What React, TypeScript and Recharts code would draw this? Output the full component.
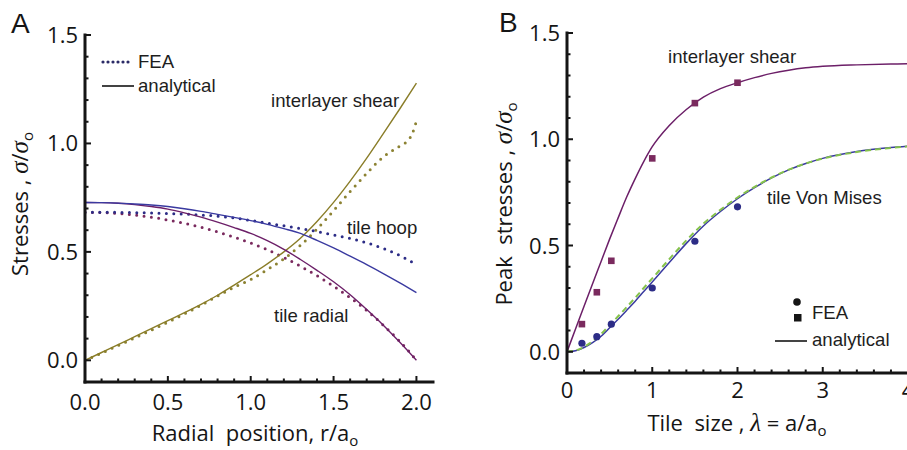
import React from 'react';
import { ComposedChart, Line, Scatter, XAxis, YAxis } from 'recharts';

// ---- Panel A: stresses along the radius (r / a_o) ----
const radialPos = [0, 0.1, 0.2, 0.3, 0.4, 0.5, 0.6, 0.7, 0.8, 0.9, 1.0, 1.1, 1.2, 1.3, 1.4, 1.5, 1.6, 1.7, 1.8, 1.9, 2.0];
const hoopAnalytical = [0.728, 0.727, 0.725, 0.721, 0.716, 0.709, 0.699, 0.687, 0.673, 0.659, 0.644, 0.627, 0.607, 0.585, 0.553, 0.518, 0.48, 0.441, 0.4, 0.357, 0.312];
const radialAnalytical = [0.728, 0.727, 0.724, 0.718, 0.709, 0.697, 0.68, 0.66, 0.637, 0.612, 0.585, 0.552, 0.512, 0.465, 0.415, 0.362, 0.302, 0.234, 0.162, 0.083, 0.0];
const shearAnalytical = [0, 0.036, 0.072, 0.109, 0.146, 0.183, 0.22, 0.258, 0.3, 0.347, 0.395, 0.445, 0.5, 0.563, 0.64, 0.728, 0.826, 0.932, 1.045, 1.16, 1.278];

const radialPosFea = [0, 0.1, 0.2, 0.3, 0.4, 0.5, 0.6, 0.7, 0.8, 0.9, 1.0, 1.1, 1.2, 1.3, 1.4, 1.5, 1.6, 1.7, 1.8, 1.9, 1.95, 1.975, 2.0];
const hoopFea = [0.683, 0.683, 0.682, 0.681, 0.679, 0.677, 0.674, 0.67, 0.665, 0.656, 0.645, 0.632, 0.62, 0.607, 0.594, 0.578, 0.562, 0.542, 0.516, 0.483, 0.463, 0.452, 0.44];
const radialFea = [0.682, 0.681, 0.677, 0.67, 0.66, 0.647, 0.632, 0.614, 0.592, 0.568, 0.541, 0.51, 0.474, 0.434, 0.39, 0.342, 0.289, 0.23, 0.162, 0.087, 0.045, 0.023, 0.0];
const shearFea = [0, 0.033, 0.068, 0.103, 0.139, 0.176, 0.214, 0.254, 0.296, 0.337, 0.372, 0.418, 0.468, 0.53, 0.605, 0.69, 0.778, 0.862, 0.938, 0.988, 1.015, 1.045, 1.103];

const ticksAx = [0, 0.1, 0.2, 0.3, 0.4, 0.5, 0.6, 0.7, 0.8, 0.9, 1.0, 1.1, 1.2, 1.3, 1.4, 1.5, 1.6, 1.7, 1.8, 1.9, 2.0];
const majorAx = [0, 0.5, 1.0, 1.5, 2.0];
const ticksStress = [-0.1, 0, 0.1, 0.2, 0.3, 0.4, 0.5, 0.6, 0.7, 0.8, 0.9, 1.0, 1.1, 1.2, 1.3, 1.4, 1.5];
const majorStress = [0, 0.5, 1.0, 1.5];

// ---- Panel B: peak stresses vs tile size (lambda) ----
const tileSize = [0, 0.1, 0.2, 0.3, 0.4, 0.5, 0.6, 0.7, 0.8, 0.9, 1.0, 1.2, 1.4, 1.6, 1.8, 2.0, 2.2, 2.4, 2.6, 2.8, 3.0, 3.4, 3.8, 4.0];
const shearPeak = [0, 0.107, 0.214, 0.32, 0.425, 0.53, 0.63, 0.728, 0.815, 0.895, 0.965, 1.065, 1.14, 1.198, 1.238, 1.266, 1.29, 1.31, 1.325, 1.336, 1.343, 1.35, 1.354, 1.355];
const vonMisesPeak = [0, 0.005, 0.02, 0.043, 0.073, 0.113, 0.153, 0.195, 0.238, 0.283, 0.328, 0.42, 0.51, 0.592, 0.66, 0.72, 0.772, 0.818, 0.856, 0.886, 0.91, 0.942, 0.961, 0.968];
const vonMisesAlt = [0, 0.006, 0.023, 0.05, 0.083, 0.125, 0.167, 0.21, 0.254, 0.3, 0.345, 0.436, 0.524, 0.603, 0.668, 0.726, 0.776, 0.82, 0.857, 0.886, 0.909, 0.94, 0.959, 0.966];

const feaSize = [0.175, 0.35, 0.52, 1.0, 1.5, 2.0];
const shearPeakFea = [0.13, 0.28, 0.428, 0.91, 1.17, 1.266];
const vonMisesFea = [0.04, 0.071, 0.13, 0.3, 0.52, 0.682];

const ticksLambda = [0, 0.2, 0.4, 0.6, 0.8, 1.0, 1.2, 1.4, 1.6, 1.8, 2.0, 2.2, 2.4, 2.6, 2.8, 3.0, 3.2, 3.4, 3.6, 3.8, 4.0];
const majorLambda = [0, 1, 2, 3, 4];

const INK = '#151515';
const PURPLE = '#6c1f68';
const PURPLE_DOT = '#7a2a5e';
const BLUE = '#3a3aa0';
const BLUE_DOT = '#2c2c86';
const OLIVE = '#8a7d28';
const OLIVE_DOT = '#8c8232';
const GREEN = '#86c24c';
const TICK_FONT = "'Open Sans', sans-serif";
const TEXT_FONT = "'Liberation Sans', Arial, sans-serif";
const GREEK_FONT = "'Liberation Serif', serif";

const pairs = (xs: number[], ys: number[]) => xs.map((x, i) => ({ x, v: ys[i] }));
const isMajor = (v: number, majors: number[]) => majors.some((m) => Math.abs(m - v) < 1e-6);

const MARGIN = 8;

function bottomTick(majors: number[], fmt: (v: number) => string, labelDy: number) {
  return (p: any) => {
    const axisY = p.y - MARGIN;
    const major = isMajor(p.payload.value, majors);
    return (
      <g>
        <line x1={p.x} x2={p.x} y1={axisY} y2={axisY - (major ? 6 : 3.5)} stroke={INK} strokeWidth={2} />
        {major && (
          <text x={p.x} y={axisY + labelDy} textAnchor="middle" fontFamily={TICK_FONT} fontSize={22} fill={INK}>
            {fmt(p.payload.value)}
          </text>
        )}
      </g>
    );
  };
}

function leftTick(majors: number[]) {
  return (p: any) => {
    const axisX = p.x + MARGIN;
    const major = isMajor(p.payload.value, majors);
    return (
      <g>
        <line x1={axisX} x2={axisX + (major ? 6 : 3.5)} y1={p.y} y2={p.y} stroke={INK} strokeWidth={2} />
        {major && (
          <text x={axisX - 7} y={p.y + 8} textAnchor="end" fontFamily={TICK_FONT} fontSize={22} fill={INK}>
            {p.payload.value.toFixed(1)}
          </text>
        )}
      </g>
    );
  };
}

function topTick(majors: number[]) {
  return (p: any) => {
    const major = isMajor(p.payload.value, majors);
    return <line x1={p.x} x2={p.x} y1={p.y} y2={p.y + (major ? 6 : 3.5)} stroke={INK} strokeWidth={2} />;
  };
}

function rightTick(majors: number[]) {
  return (p: any) => {
    const major = isMajor(p.payload.value, majors);
    return <line x1={p.x} x2={p.x - (major ? 6 : 3.5)} y1={p.y} y2={p.y} stroke={INK} strokeWidth={2} />;
  };
}

const frame = { stroke: INK, strokeWidth: 3, strokeLinecap: 'square' as const };

function PanelA() {
  return (
    <ComposedChart width={450} height={450} margin={{ top: 35, right: 17, bottom: 28, left: 25 }}>
      <XAxis xAxisId="b" type="number" dataKey="x" domain={[0, 2.1]} allowDataOverflow ticks={ticksAx} interval={0}
        height={40} tickSize={0} tickMargin={MARGIN} axisLine={frame} tickLine={false}
        tick={bottomTick(majorAx, (v) => v.toFixed(1), 28)} />
      <XAxis xAxisId="t" orientation="top" type="number" dataKey="x" domain={[0, 2.1]} allowDataOverflow ticks={ticksAx}
        interval={0} height={0} tickSize={0} tickMargin={0} axisLine={frame} tickLine={false} tick={topTick(majorAx)} />
      <YAxis yAxisId="l" type="number" dataKey="v" domain={[-0.1, 1.5]} allowDataOverflow ticks={ticksStress} interval={0}
        width={60} tickSize={0} tickMargin={MARGIN} axisLine={frame} tickLine={false} tick={leftTick(majorStress)} />
      <YAxis yAxisId="r" orientation="right" type="number" dataKey="v" domain={[-0.1, 1.5]} allowDataOverflow
        ticks={ticksStress} interval={0} width={0} tickSize={0} tickMargin={0} axisLine={frame} tickLine={false}
        tick={rightTick(majorStress)} />

      <Line xAxisId="t" yAxisId="r" data={pairs(radialPosFea, shearFea)} dataKey="v" type="monotone" stroke={OLIVE_DOT}
        strokeWidth={3} strokeDasharray="0 7.4" strokeLinecap="round" dot={false} activeDot={false} isAnimationActive={false} />
      <Line xAxisId="t" yAxisId="r" data={pairs(radialPosFea, radialFea)} dataKey="v" type="monotone" stroke={PURPLE_DOT}
        strokeWidth={3} strokeDasharray="0 7.4" strokeLinecap="round" dot={false} activeDot={false} isAnimationActive={false} />
      <Line xAxisId="t" yAxisId="r" data={pairs(radialPosFea, hoopFea)} dataKey="v" type="monotone" stroke={BLUE_DOT}
        strokeWidth={3} strokeDasharray="0 7.4" strokeLinecap="round" dot={false} activeDot={false} isAnimationActive={false} />

      <Line xAxisId="b" yAxisId="l" data={pairs(radialPos, shearAnalytical)} dataKey="v" type="monotone" stroke={OLIVE}
        strokeWidth={1.4} dot={false} activeDot={false} isAnimationActive={false} />
      <Line xAxisId="b" yAxisId="l" data={pairs(radialPos, radialAnalytical)} dataKey="v" type="monotone" stroke={PURPLE}
        strokeWidth={1.4} dot={false} activeDot={false} isAnimationActive={false} />
      <Line xAxisId="b" yAxisId="l" data={pairs(radialPos, hoopAnalytical)} dataKey="v" type="monotone" stroke={BLUE}
        strokeWidth={1.4} dot={false} activeDot={false} isAnimationActive={false} />
    </ComposedChart>
  );
}

const squareShape = (p: any) => <rect x={p.cx - 3.3} y={p.cy - 3.3} width={6.6} height={6.6} fill={PURPLE_DOT} />;
const circleShape = (p: any) => <circle cx={p.cx} cy={p.cy} r={3.6} fill={BLUE_DOT} />;

function PanelB() {
  return (
    <ComposedChart width={460} height={450} margin={{ top: 33, right: 9, bottom: 37, left: 50 }}>
      <XAxis xAxisId="b" type="number" dataKey="x" domain={[0, 4]} allowDataOverflow ticks={ticksLambda} interval={0}
        height={40} tickSize={0} tickMargin={MARGIN} axisLine={frame} tickLine={false}
        tick={bottomTick(majorLambda, (v) => String(Math.round(v)), 25)} />
      <XAxis xAxisId="t" orientation="top" type="number" dataKey="x" domain={[0, 4]} allowDataOverflow ticks={ticksLambda}
        interval={0} height={0} tickSize={0} tickMargin={0} axisLine={frame} tickLine={false} tick={topTick(majorLambda)} />
      <YAxis yAxisId="l" type="number" dataKey="v" domain={[-0.1, 1.5]} allowDataOverflow ticks={ticksStress} interval={0}
        width={60} tickSize={0} tickMargin={MARGIN} axisLine={frame} tickLine={false} tick={leftTick(majorStress)} />
      <YAxis yAxisId="r" orientation="right" type="number" dataKey="v" domain={[-0.1, 1.5]} allowDataOverflow
        ticks={ticksStress} interval={0} width={0} tickSize={0} tickMargin={0} axisLine={frame} tickLine={false}
        tick={rightTick(majorStress)} />

      <Line xAxisId="b" yAxisId="l" data={pairs(tileSize, shearPeak)} dataKey="v" type="monotone" stroke={PURPLE}
        strokeWidth={1.5} dot={false} activeDot={false} isAnimationActive={false} />
      <Line xAxisId="b" yAxisId="l" data={pairs(tileSize, vonMisesPeak)} dataKey="v" type="monotone" stroke={BLUE}
        strokeWidth={1.5} dot={false} activeDot={false} isAnimationActive={false} />
      <Line xAxisId="t" yAxisId="r" data={pairs(tileSize, vonMisesAlt)} dataKey="v" type="monotone" stroke={GREEN}
        strokeWidth={2} strokeDasharray="6 4" dot={false} activeDot={false} isAnimationActive={false} />

      <Scatter xAxisId="b" yAxisId="l" data={pairs(feaSize, shearPeakFea)} dataKey="v" shape={squareShape}
        isAnimationActive={false} />
      <Scatter xAxisId="b" yAxisId="l" data={pairs(feaSize, vonMisesFea)} dataKey="v" shape={circleShape}
        isAnimationActive={false} />
    </ComposedChart>
  );
}

function Overlay() {
  const txt = { fontFamily: TEXT_FONT, fontSize: 18.6, fill: '#1e1e1e' };
  const title = { fontFamily: TICK_FONT, fontSize: 22, fill: INK, style: { whiteSpace: 'pre' as const } };
  const greek = { fontFamily: GREEK_FONT, fontStyle: 'italic' as const, fontSize: 25 };
  return (
    <svg width={907} height={450} style={{ position: 'absolute', left: 0, top: 0, pointerEvents: 'none' }}>
      <text x={11} y={33} fontFamily={TEXT_FONT} fontSize={28} fill={INK}>A</text>
      <text x={499} y={32} fontFamily={TEXT_FONT} fontSize={28} fill={INK}>B</text>

      {/* panel A legend */}
      <line x1={103} x2={133} y1={62} y2={62} stroke="#2a2a66" strokeWidth={3.2} strokeDasharray="0 5" strokeLinecap="round" />
      <text x={138} y={68} {...txt}>FEA</text>
      <line x1={102} x2={134} y1={86} y2={86} stroke={INK} strokeWidth={1.6} />
      <text x={138} y={92} {...txt}>analytical</text>

      <text x={271} y={107} {...txt}>interlayer shear</text>
      <text x={347} y={234} {...txt}>tile hoop</text>
      <text x={274} y={322} {...txt}>tile radial</text>

      {/* panel B labels + legend */}
      <text x={668} y={63} {...txt}>interlayer shear</text>
      <text x={767} y={204} {...txt}>tile Von Mises</text>
      <circle cx={797} cy={302} r={3.8} fill={INK} />
      <rect x={794} y={314} width={7.5} height={7.5} fill={INK} />
      <text x={812} y={319} {...txt}>FEA</text>
      <line x1={775} x2={807} y1={341} y2={341} stroke={INK} strokeWidth={1.6} />
      <text x={812} y={346} {...txt}>analytical</text>

      {/* axis titles */}
      <text x={255} y={441} textAnchor="middle" {...title}>
        Radial  position, r/a<tspan fontSize={15} dy={5}>o</tspan>
      </text>
      <text x={737} y={431} textAnchor="middle" {...title}>
        Tile  size , <tspan {...greek}>λ</tspan> = a/a<tspan fontSize={15} dy={5}>o</tspan>
      </text>
      <text x={28} y={204} textAnchor="middle" transform="rotate(-90 28 204)" {...title}>
        Stresses , <tspan {...greek}>σ</tspan>/<tspan {...greek}>σ</tspan><tspan fontSize={15} dy={5}>o</tspan>
      </text>
      <text x={512} y={204} textAnchor="middle" transform="rotate(-90 512 204)" {...title}>
        Peak  stresses , <tspan {...greek}>σ</tspan>/<tspan {...greek}>σ</tspan><tspan fontSize={15} dy={5}>o</tspan>
      </text>
    </svg>
  );
}

export default function App() {
  return (
    <div style={{ position: 'absolute', left: 0, top: 0, width: 907, height: 450, overflow: 'hidden', background: '#fff' }}>
      <div style={{ position: 'absolute', left: 0, top: 0 }}>
        <PanelA />
      </div>
      <div style={{ position: 'absolute', left: 457, top: 0 }}>
        <PanelB />
      </div>
      <Overlay />
    </div>
  );
}
